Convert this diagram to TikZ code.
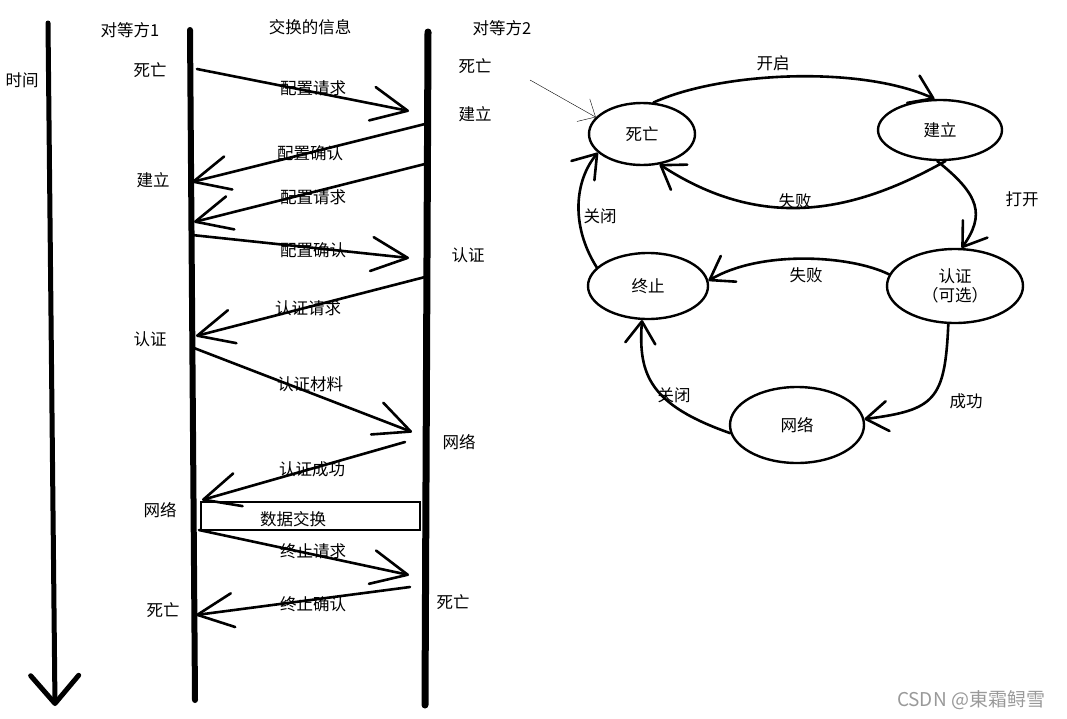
\documentclass[tikz,border=0pt]{standalone}
\usepackage{fontspec}
\setmainfont{Noto Sans CJK SC}
\usetikzlibrary{arrows.meta,shapes.geometric}

\tikzset{
  lifeline/.style={line width=6pt, line cap=round},
  msg/.style={line width=2.6pt, line cap=round, -{Straight Barb[length=36pt,width=34pt,round]}},
  trans/.style={line width=2.6pt, line cap=round, -{Straight Barb[length=22pt,width=30pt,round]}},
  state/.style={draw, ellipse, line width=2.4pt, inner sep=0pt, align=center},
  lbl/.style={inner sep=0pt, font=\fontsize{16.5}{19}\selectfont},
}

\begin{document}
\begin{tikzpicture}[x=1pt,y=-1pt]
\useasboundingbox (0,0) rectangle (1067,718);
% time axis and the two peers:
\coordinate (t0) at (48,23);
\coordinate (t1) at (55,706);
\draw[line width=5pt, line cap=round, -{Straight Barb[length=28pt,width=48pt,round]}] (t0) -- (t1);
\coordinate (p1top) at (190,30);
\coordinate (p1bot) at (195,700);
\coordinate (p2top) at (428,32);
\coordinate (p2bot) at (425,705);
\draw[lifeline] (p1top) -- (p1bot);
\draw[lifeline, line width=7pt] (p2top) -- (p2bot);
% headings:
\node[lbl] (peer1) at (130,30) {对等方1};
\node[lbl] (info) at (310,27) {交换的信息};
\node[lbl] (peer2) at (502,28) {对等方2};
\node[lbl] (time) at (22,80) {时间};
% phases of peer 1:
\node[lbl] (l1) at (150,70) {死亡};
\node[lbl] (l2) at (153,180) {建立};
\node[lbl] (l3) at (150,339) {认证};
\node[lbl] (l4) at (160,510) {网络};
\node[lbl] (l5) at (163,610) {死亡};
% phases of peer 2:
\node[lbl] (r1) at (475,66) {死亡};
\node[lbl] (r2) at (475,114) {建立};
\node[lbl] (r3) at (468,255) {认证};
\node[lbl] (r4) at (459,442) {网络};
\node[lbl] (r5) at (453,602) {死亡};
% message ends:
\coordinate (m1a) at (197,69);  \coordinate (m1b) at (409,111);
\coordinate (m2a) at (425,124); \coordinate (m2b) at (192,182);
\coordinate (m3a) at (425,164); \coordinate (m3b) at (194,222);
\coordinate (m4a) at (192,235); \coordinate (m4b) at (409,258);
\coordinate (m5a) at (425,277); \coordinate (m5b) at (196,336);
\coordinate (m6a) at (194,348); \coordinate (m6b) at (412,432);
\coordinate (m7a) at (405,442); \coordinate (m7b) at (202,500);
\coordinate (m8a) at (199,530); \coordinate (m8b) at (409,575);
\coordinate (m9a) at (410,587); \coordinate (m9b) at (196,615);
% message labels:
\node[lbl] (c1) at (313,88) {配置请求};
\node[lbl] (c2) at (310,153) {配置确认};
\node[lbl] (c3) at (313,197) {配置请求};
\node[lbl] (c4) at (313,250) {配置确认};
\node[lbl] (c5) at (308,308) {认证请求};
\node[lbl] (c6) at (310,384) {认证材料};
\node[lbl] (c7) at (312,469) {认证成功};
\node[lbl] (c8) at (293,519) {数据交换};
\node[lbl] (c9) at (313,551) {终止请求};
\node[lbl] (c10) at (313,604) {终止确认};
% messages:
\draw[msg] (m1a) -- (m1b);
\draw[msg] (m2a) -- (m2b);
\draw[msg] (m3a) -- (m3b);
\draw[msg] (m4a) -- (m4b);
\draw[msg] (m5a) -- (m5b);
\draw[msg] (m6a) -- (m6b);
\draw[msg] (m7a) -- (m7b);
\draw[line width=2.6pt] (201,502) rectangle (420,530);
\draw[msg] (m8a) -- (m8b);
\draw[msg] (m9a) -- (m9b);
% state machine:
\node[state, minimum width=106pt, minimum height=62pt, lbl] (dead) at (642,134) {死亡};
\node[state, minimum width=124pt, minimum height=60pt, lbl] (build) at (940,130) {建立};
\node[state, minimum width=120pt, minimum height=66pt, lbl] (term) at (648,286) {终止};
\node[state, minimum width=136pt, minimum height=74pt, lbl] (auth) at (955,286) {认证\\（可选）};
\node[state, minimum width=134pt, minimum height=76pt, lbl] (net) at (797,425) {网络};
\coordinate (init) at (530,80);
\draw[thin, -{Straight Barb[length=14pt,width=26pt]}] (init) -- (dead.160);
\draw[trans] (dead.70) .. controls (720,72) and (860,65) .. (build.100);
\draw[trans] (build.-80) .. controls (850,215) and (760,230) .. (dead.-60);
\draw[trans] (build.-95) .. controls (980,195) and (985,215) .. (auth.80);
\draw[trans] (auth.170) .. controls (850,255) and (760,250) .. (term.5);
\draw[trans] (auth.-100) .. controls (945,400) and (935,410) .. (net.5);
\draw[trans] (net.187) .. controls (650,405) and (638,375) .. (term.-100);
\draw[trans] (term.160) .. controls (570,225) and (575,180) .. (dead.203);
% transition labels:
\node[lbl] (e1) at (773,63) {开启};
\node[lbl] (e2) at (795,201) {失败};
\node[lbl] (e3) at (1022,199) {打开};
\node[lbl] (e4) at (806,275) {失败};
\node[lbl] (e5) at (966,401) {成功};
\node[lbl] (e6) at (674,395) {关闭};
\node[lbl] (e7) at (600,216) {关闭};
% watermark:
\node[inner sep=0pt, text=black!40, font=\fontsize{19}{22}\selectfont] (mark) at (971,700) {CSDN @東霜鲟雪};
\end{tikzpicture}
\end{document}
